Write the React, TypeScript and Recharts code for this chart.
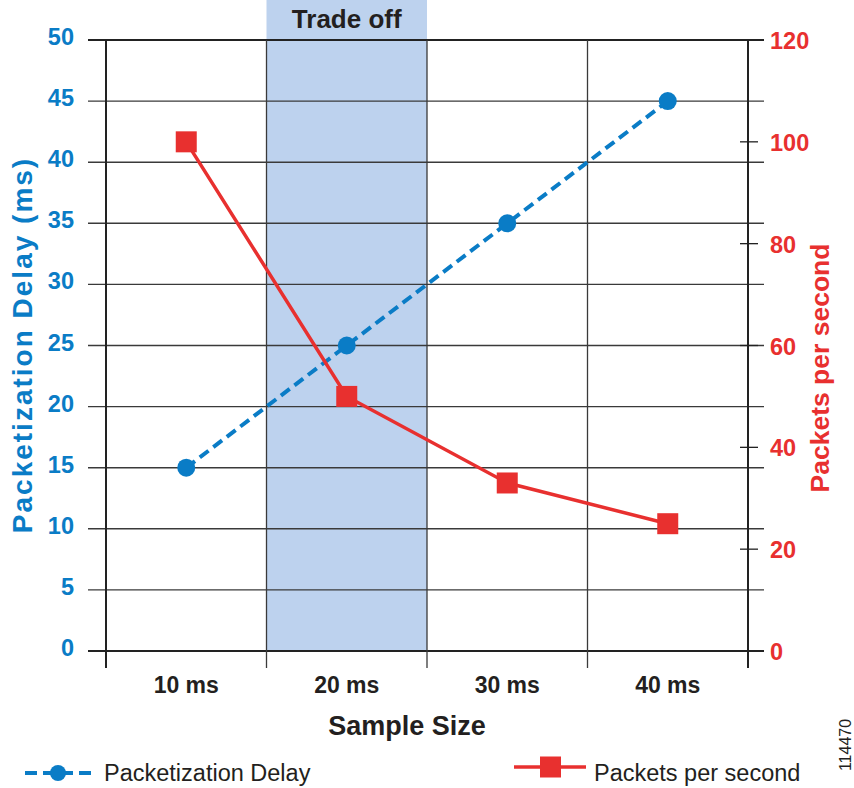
import React from "react"
import { ComposedChart, Line, XAxis, YAxis, ReferenceLine, ReferenceArea } from "recharts"

const sizes = ["10 ms", "20 ms", "30 ms", "40 ms"]
const delayMs = [15, 25, 35, 45]
const packetsPerSecond = [100, 50, 33, 25]
const delayTicks = [0, 5, 10, 15, 20, 25, 30, 35, 40, 45, 50]
const ppsTicks = [0, 20, 40, 60, 80, 100, 120]
const tradeOffSize = "20 ms"

const BLUE = "#0a7cc6"
const RED = "#e8302f"
const INK = "#231f20"
const GRID = "#3a3a3a"
const FONT = "'Liberation Sans', Arial, Helvetica, sans-serif"

const data = sizes.map((size, i) => ({
  size,
  delay: delayMs[i],
  pps: packetsPerSecond[i],
}))

const hLine = (edge: boolean) => (p: any) => (
  <line
    x1={Math.min(p.x1, p.x2) - 18}
    x2={Math.max(p.x1, p.x2) + 16}
    y1={p.y1}
    y2={p.y2}
    stroke={edge ? "#222" : GRID}
    strokeWidth={edge ? 2 : 1.4}
  />
)

const vLine = (edge: boolean) => (p: any) => (
  <line
    x1={p.x1}
    x2={p.x2}
    y1={Math.min(p.y1, p.y2)}
    y2={Math.max(p.y1, p.y2) + 17}
    stroke={edge ? "#222" : GRID}
    strokeWidth={edge ? 2 : 1.3}
  />
)

const TradeOff = (p: any) => {
  const bottom = p.y + p.height
  return (
    <g>
      <rect x={p.x} y={0} width={p.width} height={bottom} fill="#bdd2ee" />
      <text
        x={p.x + p.width / 2}
        y={28}
        textAnchor="middle"
        fontFamily={FONT}
        fontWeight="bold"
        fontSize={26}
        fill={INK}
      >
        Trade off
      </text>
    </g>
  )
}

const LeftTick = (p: any) => (
  <text
    x={p.x - 32}
    y={p.y + 5}
    textAnchor="end"
    fontFamily={FONT}
    fontWeight="bold"
    fontSize={23.5}
    fill={BLUE}
  >
    {p.payload.value}
  </text>
)

const RightTick = (p: any) => (
  <g>
    <line x1={p.x - 8} x2={p.x + 10} y1={p.y} y2={p.y} stroke="#222" strokeWidth={1.3} />
    <text
      x={p.x + 22}
      y={p.y + 9}
      textAnchor="start"
      fontFamily={FONT}
      fontWeight="bold"
      fontSize={23.5}
      fill={RED}
    >
      {p.payload.value}
    </text>
  </g>
)

const CircleDot = (p: any) => <circle key={p.index} cx={p.cx} cy={p.cy} r={9} fill={BLUE} />

const SquareDot = (p: any) => (
  <rect key={p.index} x={p.cx - 10.5} y={p.cy - 10.5} width={21} height={21} fill={RED} />
)

const LeftTitle = () => (
  <text
    x={22}
    y={345}
    transform="rotate(-90 22 345)"
    textAnchor="middle"
    dominantBaseline="central"
    fontFamily={FONT}
    fontWeight="bold"
    fontSize={28}
    letterSpacing={2}
    fill={BLUE}
  >
    Packetization Delay (ms)
  </text>
)

const RightTitle = () => (
  <text
    x={820}
    y={368}
    transform="rotate(-90 820 368)"
    textAnchor="middle"
    dominantBaseline="central"
    fontFamily={FONT}
    fontWeight="bold"
    fontSize={26.5}
    fill={RED}
  >
    Packets per second
  </text>
)

const XTitle = () => (
  <text
    x={407}
    y={735}
    textAnchor="middle"
    fontFamily={FONT}
    fontWeight="bold"
    fontSize={27}
    fill={INK}
  >
    Sample Size
  </text>
)

const legendText = {
  position: "absolute" as const,
  fontFamily: FONT,
  fontSize: 23.5,
  color: INK,
  lineHeight: "26px",
  whiteSpace: "nowrap" as const,
}

export default function App() {
  return (
    <div style={{ position: "absolute", left: 0, top: 0, width: 854, height: 788, background: "#fff", overflow: "hidden" }}>
      <ComposedChart width={854} height={788} data={data} margin={{ top: 40, right: 0, bottom: 0, left: 0 }}>
        <XAxis
          dataKey="size"
          scale="band"
          height={137}
          tickLine={false}
          axisLine={false}
          tickSize={0}
          tickMargin={26}
          tick={{ fontFamily: FONT, fontWeight: "bold", fontSize: 23, fill: INK }}
          label={<XTitle />}
        />
        <YAxis
          yAxisId="left"
          orientation="left"
          width={106}
          domain={[0, 50]}
          ticks={delayTicks}
          interval={0}
          tickLine={false}
          axisLine={false}
          tickSize={0}
          tickMargin={0}
          tick={<LeftTick />}
          label={<LeftTitle />}
        />
        <YAxis
          yAxisId="right"
          orientation="right"
          width={106}
          domain={[0, 120]}
          ticks={ppsTicks}
          interval={0}
          tickLine={false}
          axisLine={false}
          tickSize={0}
          tickMargin={0}
          tick={<RightTick />}
          label={<RightTitle />}
        />
        <ReferenceArea
          yAxisId="left"
          x1={tradeOffSize}
          x2={tradeOffSize}
          ifOverflow="visible"
          shape={TradeOff}
        />
        {delayTicks.map((v) => (
          <ReferenceLine
            key={"h" + v}
            yAxisId="left"
            y={v}
            ifOverflow="visible"
            shape={hLine(v === 0 || v === 50)}
          />
        ))}
        {sizes.map((s, i) => (
          <ReferenceLine
            key={"v" + s}
            yAxisId="left"
            x={s}
            position="start"
            ifOverflow="visible"
            shape={vLine(i === 0)}
          />
        ))}
        <ReferenceLine
          yAxisId="left"
          x={sizes[sizes.length - 1]}
          position="end"
          ifOverflow="visible"
          shape={vLine(true)}
        />
        <Line
          yAxisId="left"
          dataKey="delay"
          stroke={BLUE}
          strokeWidth={4}
          strokeDasharray="11 6"
          dot={<CircleDot />}
          activeDot={false}
          isAnimationActive={false}
        />
        <Line
          yAxisId="right"
          dataKey="pps"
          stroke={RED}
          strokeWidth={3.5}
          dot={<SquareDot />}
          activeDot={false}
          isAnimationActive={false}
        />
      </ComposedChart>
      <svg style={{ position: "absolute", left: 24, top: 758 }} width={72} height={30}>
        <line x1={1} x2={70} y1={15} y2={15} stroke={BLUE} strokeWidth={4} strokeDasharray="12 6" />
        <circle cx={34} cy={15} r={8} fill={BLUE} />
      </svg>
      <div style={{ ...legendText, left: 104, top: 760 }}>Packetization Delay</div>
      <svg style={{ position: "absolute", left: 513, top: 752 }} width={74} height={30}>
        <line x1={1} x2={73} y1={15} y2={15} stroke={RED} strokeWidth={3.5} />
        <rect x={27} y={4.5} width={21} height={21} fill={RED} />
      </svg>
      <div style={{ ...legendText, left: 594, top: 760 }}>Packets per second</div>
      <div
        style={{
          position: "absolute",
          left: 846,
          top: 745,
          transform: "translate(-50%, -50%) rotate(-90deg)",
          fontFamily: FONT,
          fontSize: 16,
          color: INK,
          whiteSpace: "nowrap",
        }}
      >
        114470
      </div>
    </div>
  )
}
